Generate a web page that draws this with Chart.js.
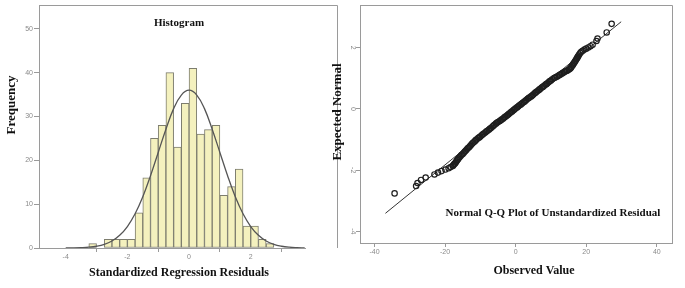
<!DOCTYPE html>
<html><head><meta charset="utf-8">
<script src="https://cdn.jsdelivr.net/npm/chart.js@4"></script>
<style>
html,body{margin:0;padding:0;background:#fff;width:685px;height:288px;overflow:hidden}
#c1{position:absolute;left:0;top:0}
#c2{position:absolute;left:328px;top:0}
</style></head><body>
<canvas id="c1" width="340" height="288"></canvas>
<canvas id="c2" width="357" height="288"></canvas>
<script>
// ---------- Histogram data ----------
const binStarts = [-3.25,-3.0,-2.75,-2.5,-2.25,-2.0,-1.75,-1.5,-1.25,-1.0,-0.75,-0.5,-0.25,0,0.25,0.5,0.75,1.0,1.25,1.5,1.75,2.0,2.25,2.5];
const binCounts = [1,0,2,2,2,2,8,16,25,28,40,23,33,41,26,27,28,12,14,18,5,5,2,1];
const binWidth = 0.25;
const curveX = [-4,-3.75,-3.5,-3.25,-3,-2.75,-2.5,-2.25,-2,-1.75,-1.5,-1.25,-1,-0.75,-0.5,-0.25,0,0.25,0.5,0.75,1,1.25,1.5,1.75,2,2.25,2.5,2.75,3,3.25,3.5,3.75];
const curveY = [0.01,0.03,0.08,0.18,0.4,0.82,1.6,2.9,4.9,7.8,11.7,16.5,21.8,27.1,31.8,34.9,36,34.9,31.8,27.1,21.8,16.5,11.7,7.8,4.9,2.9,1.6,0.82,0.4,0.18,0.08,0.03];
const histXTicks = [-4,-2,0,2];
const histYTicks = [0,10,20,30,40,50];

// ---------- Q-Q data (observed residual, expected normal value) ----------
const qqObserved = [-34.3,-28.2,-27.8,-26.8,-25.5,-23.0,-22.0,-21.0,-19.9,-19.0,-18.4,
  -17.8,-17.6,-17.4,-17.2,-17.0,-16.8,-16.6,-16.4,-16.2,
  -15.9,-15.6,-15.3,-15.0,-14.7,-14.4,-14.1,-13.8,-13.5,-13.2,-12.9,-12.6,-12.3,-12.0,-11.6,-11.3,
  -11.0,-10.6,-10.3,-10.0,-9.6,-9.3,-9.0,-8.6,-8.3,-8.0,-7.6,-7.3,-7.0,-6.6,-6.3,-6.0,-5.6,-5.3,-5.0,-4.6,-4.3,-4.0,-3.6,-3.3,-3.0,-2.6,-2.3,-2.0,-1.6,-1.3,-1.0,-0.6,-0.3,0.0,
  0.4,0.7,1.0,1.4,1.7,2.0,2.4,2.7,3.0,3.4,3.7,4.0,4.4,4.7,5.0,5.4,5.7,6.0,6.4,6.7,7.0,7.4,7.7,8.0,8.4,8.7,9.0,9.4,9.7,10.0,10.4,10.9,
  11.2,11.6,11.9,12.3,12.6,13.0,13.3,13.7,14.0,14.4,14.7,15.1,15.4,
  15.6,15.8,16.0,16.2,16.4,16.6,16.8,17.0,17.2,17.4,17.6,17.8,18.0,18.3,
  18.6,19.0,19.5,20.0,20.6,21.2,21.8,22.9,23.2,25.8,27.2];
const qqExpected = [-2.76,-2.52,-2.42,-2.32,-2.24,-2.14,-2.08,-2.03,-1.98,-1.94,-1.90,
  -1.86,-1.83,-1.80,-1.78,-1.75,-1.72,-1.68,-1.65,-1.62,
  -1.58,-1.54,-1.50,-1.47,-1.43,-1.39,-1.36,-1.32,-1.28,-1.25,-1.21,-1.17,-1.13,-1.10,-1.06,-1.02,
  -0.99,-0.95,-0.93,-0.90,-0.86,-0.83,-0.80,-0.77,-0.74,-0.71,-0.68,-0.65,-0.62,-0.58,-0.55,-0.52,-0.48,-0.45,-0.43,-0.40,-0.38,-0.35,-0.32,-0.29,-0.26,-0.23,-0.20,-0.17,-0.13,-0.10,-0.08,-0.04,-0.01,0.02,
  0.05,0.08,0.11,0.14,0.17,0.20,0.23,0.26,0.29,0.33,0.36,0.38,0.41,0.44,0.47,0.51,0.54,0.57,0.60,0.63,0.66,0.70,0.72,0.75,0.79,0.81,0.84,0.88,0.91,0.93,0.97,1.01,
  1.03,1.05,1.07,1.10,1.12,1.15,1.17,1.20,1.22,1.24,1.26,1.29,1.31,
  1.34,1.37,1.41,1.44,1.48,1.51,1.55,1.58,1.62,1.66,1.70,1.74,1.78,1.83,
  1.87,1.90,1.94,1.97,2.01,2.05,2.10,2.22,2.30,2.50,2.78];
const refLineX = [-36.9, 29.9];
const refLineY = [-3.41, 2.85];
const qqXTicks = [-40,-20,0,20,40];
const qqYTicks = [-4,-2,0,2];

const AXIS = '#9a9a9a';
const TICKFONT = {family:'Liberation Sans, Arial, sans-serif', size:7};
const TICKCOL = '#8a8a8a';
const SERIF = 'Liberation Serif, Times New Roman, serif';

function decoPlugin(cfg){
  return {
    id:'deco',
    afterDraw(chart){
      const ctx = chart.ctx, a = chart.chartArea;
      ctx.save();
      ctx.strokeStyle = AXIS; ctx.lineWidth = 1;
      ctx.beginPath();
      const top = Math.round(a.top)+0.5;
      ctx.moveTo(Math.round(a.left)+0.5, top);
      ctx.lineTo(cfg.frameRight+0.5, top);
      ctx.lineTo(cfg.frameRight+0.5, cfg.frameBottom);
      ctx.stroke();
      ctx.fillStyle = '#111';
      cfg.texts.forEach(t=>{
        ctx.save();
        ctx.font = 'bold '+t.size+'px '+SERIF;
        ctx.textAlign='center'; ctx.textBaseline='middle';
        ctx.translate(t.x,t.y);
        if(t.rot) ctx.rotate(t.rot);
        ctx.fillText(t.text,0,0);
        ctx.restore();
      });
      ctx.restore();
    }
  };
}

// ---------- Histogram chart ----------
new Chart(document.getElementById('c1'), {
  type:'bar',
  data:{
    datasets:[
      {type:'line', order:0, data: curveX.map((x,i)=>({x, y:curveY[i]})),
       borderColor:'#555', borderWidth:1.3, pointRadius:0, tension:0.4, fill:false},
      {type:'bar', order:1, data: binStarts.map((s,i)=>({x:s+binWidth/2, y:binCounts[i]})),
       backgroundColor:'#f4f1be', borderColor:'#7d7d6e', borderWidth:1,
       barPercentage:1, categoryPercentage:1, borderSkipped:false}
    ]
  },
  options:{
    responsive:false, animation:false, events:[],
    layout:{padding:{left:0, top:3, right:35, bottom:0}},
    plugins:{legend:{display:false}, tooltip:{enabled:false}},
    scales:{
      x:{type:'linear', min:-4.866, max:3.76, offset:false,
         afterBuildTicks: s=>{ s.ticks = histXTicks.map(v=>({value:v})); },
         afterFit: s=>{ s.height = 40; },
         grid:{display:true, drawOnChartArea:false, drawTicks:true, tickLength:4, color:AXIS},
         border:{display:true, color:AXIS},
         ticks:{font:TICKFONT, color:TICKCOL, padding:1, maxRotation:0}},
      y:{min:0, max:55.4,
         afterBuildTicks: s=>{ s.ticks = histYTicks.map(v=>({value:v})); },
         afterFit: s=>{ s.width = 39; },
         grid:{display:true, drawOnChartArea:false, drawTicks:true, tickLength:5, color:AXIS},
         border:{display:true, color:AXIS},
         ticks:{font:TICKFONT, color:TICKCOL, padding:1}}
    }
  },
  plugins:[decoPlugin({frameRight:337, frameBottom:248, texts:[
    {text:'Histogram', x:179, y:23, size:11},
    {text:'Frequency', x:12, y:105, size:13, rot:-Math.PI/2},
    {text:'Standardized Regression Residuals', x:179, y:273, size:12}
  ]})]
});

// ---------- Q-Q chart ----------
new Chart(document.getElementById('c2'), {
  type:'scatter',
  data:{
    datasets:[
      {type:'line', order:1, data: refLineX.map((x,i)=>({x, y:refLineY[i]})),
       borderColor:'#333', borderWidth:1, pointRadius:0, fill:false},
      {type:'scatter', order:0, data: qqObserved.map((x,i)=>({x, y:qqExpected[i]})),
       pointStyle:'circle', pointRadius:2.7, borderWidth:1.2,
       borderColor:'#1e1e1e', backgroundColor:'rgba(0,0,0,0)'}
    ]
  },
  options:{
    responsive:false, animation:false, events:[],
    layout:{padding:{left:0, top:4, right:13, bottom:0}},
    plugins:{legend:{display:false}, tooltip:{enabled:false}},
    scales:{
      x:{type:'linear', min:-44.1, max:44.3,
         afterBuildTicks: s=>{ s.ticks = qqXTicks.map(v=>({value:v})); },
         afterFit: s=>{ s.height = 45; },
         grid:{display:true, drawOnChartArea:false, drawTicks:true, tickLength:4, color:AXIS},
         border:{display:true, color:AXIS},
         ticks:{font:TICKFONT, color:TICKCOL, padding:1, maxRotation:0}},
      y:{type:'linear', min:-4.38, max:3.39,
         afterBuildTicks: s=>{ s.ticks = qqYTicks.map(v=>({value:v})); },
         afterFit: s=>{ s.width = 32; },
         grid:{display:true, drawOnChartArea:false, drawTicks:true, tickLength:4, color:AXIS},
         border:{display:true, color:AXIS},
         ticks:{font:TICKFONT, color:TICKCOL, padding:0, minRotation:-90, maxRotation:-90, crossAlign:'center'}}
    }
  },
  plugins:[decoPlugin({frameRight:344, frameBottom:243, texts:[
    {text:'Expected Normal', x:10, y:112, size:13, rot:-Math.PI/2},
    {text:'Observed Value', x:206, y:271, size:12},
    {text:'Normal Q-Q Plot of Unstandardized Residual', x:225, y:213, size:11}
  ]})]
});
</script>
</body></html>
